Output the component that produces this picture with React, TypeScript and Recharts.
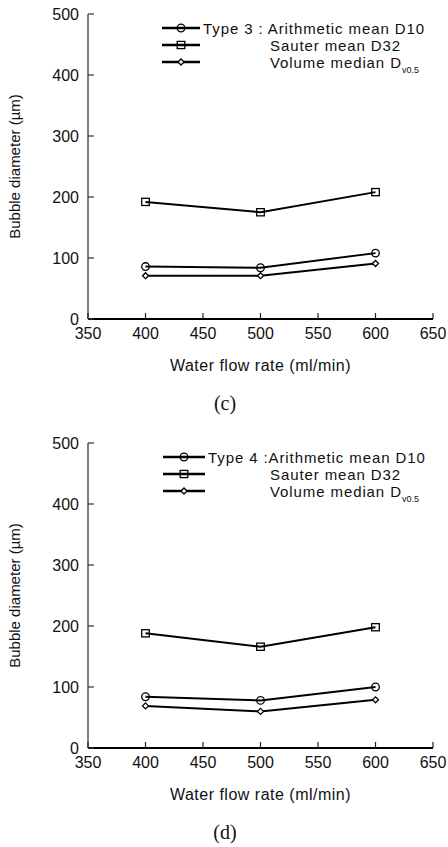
import React from 'react';
import { LineChart, Line, XAxis, YAxis } from 'recharts';

const flowRates = [400, 500, 600];
const xTicks = [350, 400, 450, 500, 550, 600, 650];
const yTicks = [0, 100, 200, 300, 400, 500];

// panel (c) - Type 3
const type3D10 = [86, 84, 108];
const type3D32 = [192, 175, 208];
const type3Dv05 = [71, 71, 91];

// panel (d) - Type 4
const type4D10 = [84, 78, 100];
const type4D32 = [188, 166, 198];
const type4Dv05 = [69, 60, 79];

const seriesNames = ['Arithmetic mean D10', 'Sauter mean D32', 'Volume median D'];
const seriesSubscript = 'v0.5';

const FONT = '"Liberation Sans", Arial, Helvetica, sans-serif';

type Shape = 'circle' | 'square' | 'diamond';

const Marker = ({ cx, cy, shape }: { cx: number; cy: number; shape: Shape }) => {
    if (shape === 'circle') {
        return <circle cx={cx} cy={cy} r={3.8} fill="none" stroke="#000" strokeWidth={1.3} />;
    }
    if (shape === 'square') {
        return <rect x={cx - 3.8} y={cy - 3.6} width={7.6} height={7.2} fill="none" stroke="#000" strokeWidth={1.3} />;
    }
    return (
        <polygon
            points={`${cx - 3},${cy} ${cx},${cy - 3} ${cx + 3},${cy} ${cx},${cy + 3}`}
            fill="#fff"
            stroke="#000"
            strokeWidth={1.3}
        />
    );
};

const makeDot = (shape: Shape) => (props: any) => {
    const { cx, cy, index } = props;
    if (cx == null || cy == null) return <g key={`e-${shape}-${index}`} />;
    return (
        <g key={`${shape}-${index}`}>
            <Marker cx={cx} cy={cy} shape={shape} />
        </g>
    );
};

const BottomTick = (props: any) => {
    const { x, y, payload } = props;
    return (
        <g>
            <line x1={x} y1={y} x2={x} y2={y - 6} stroke="#222" strokeWidth={1.2} />
            <text x={x} y={y + 20} textAnchor="middle" fontSize={16} fontFamily={FONT} fill="#111">
                {payload.value}
            </text>
        </g>
    );
};

const TopTick = (props: any) => {
    const { x, y } = props;
    return <line x1={x} y1={y} x2={x} y2={y + 6} stroke="#333" strokeWidth={1.2} />;
};

const LeftTick = (props: any) => {
    const { x, y, payload } = props;
    return (
        <g>
            <line x1={x} y1={y} x2={x + 6} y2={y} stroke="#333" strokeWidth={1.2} />
            <text x={x - 9} y={y + 5.5} textAnchor="end" fontSize={16} fontFamily={FONT} fill="#111">
                {payload.value}
            </text>
        </g>
    );
};

const RightTick = (props: any) => {
    const { x, y } = props;
    return <line x1={x} y1={y} x2={x - 6} y2={y} stroke="#333" strokeWidth={1.2} />;
};

const shapes: Shape[] = ['circle', 'square', 'diamond'];
const legendRows = [28, 45, 62];

interface PanelProps {
    d10: number[];
    d32: number[];
    dv05: number[];
    prefix: string;
    top: number;
    lineStart: number;
    lineEnd: number;
    firstTextX: number;
}

const Panel: React.FC<PanelProps> = ({ d10, d32, dv05, prefix, top, lineStart, lineEnd, firstTextX }) => {
    const data = flowRates.map((flow, i) => ({ flow, d10: d10[i], d32: d32[i], dv05: dv05[i] }));
    const markerX = (lineStart + lineEnd) / 2;
    return (
        <div style={{ position: 'absolute', left: 0, top, width: 448, height: 380 }}>
            <LineChart width={448} height={380} data={data} margin={{ top: 14, right: 15, bottom: 0, left: 0 }}>
                <XAxis
                    xAxisId="bottom"
                    dataKey="flow"
                    type="number"
                    domain={[350, 650]}
                    ticks={xTicks}
                    tickSize={0}
                    tickMargin={0}
                    tickLine={false}
                    tick={BottomTick}
                    interval={0}
                    height={61}
                    axisLine={{ stroke: '#000', strokeWidth: 2 }}
                    label={{
                        value: 'Water flow rate (ml/min)',
                        position: 'insideBottom',
                        offset: 9,
                        style: { fontSize: 16, letterSpacing: 0.5, fontFamily: FONT, fill: '#111' },
                    }}
                />
                <XAxis
                    xAxisId="top"
                    orientation="top"
                    type="number"
                    domain={[350, 650]}
                    ticks={xTicks}
                    tickSize={0}
                    tickMargin={0}
                    tickLine={false}
                    tick={TopTick}
                    interval={0}
                    height={0}
                    axisLine={{ stroke: '#777', strokeWidth: 1.5 }}
                />
                <YAxis
                    yAxisId="left"
                    type="number"
                    domain={[0, 500]}
                    ticks={yTicks}
                    tickSize={0}
                    tickMargin={0}
                    tickLine={false}
                    tick={LeftTick}
                    interval={0}
                    width={88}
                    axisLine={{ stroke: '#555', strokeWidth: 1.5 }}
                    label={{
                        value: 'Bubble diameter (µm)',
                        angle: -90,
                        position: 'insideLeft',
                        offset: 15,
                        style: { textAnchor: 'middle', fontSize: 15, fontFamily: FONT, fill: '#111' },
                    }}
                />
                <YAxis
                    yAxisId="right"
                    orientation="right"
                    type="number"
                    domain={[0, 500]}
                    ticks={yTicks}
                    tickSize={0}
                    tickMargin={0}
                    tickLine={false}
                    tick={RightTick}
                    interval={0}
                    width={0}
                    axisLine={{ stroke: '#222', strokeWidth: 1.5 }}
                />
                <Line
                    xAxisId="bottom"
                    yAxisId="left"
                    dataKey="d32"
                    stroke="#000"
                    strokeWidth={2}
                    dot={makeDot('square')}
                    activeDot={false}
                    isAnimationActive={false}
                />
                <Line
                    xAxisId="bottom"
                    yAxisId="left"
                    dataKey="d10"
                    stroke="#000"
                    strokeWidth={2}
                    dot={makeDot('circle')}
                    activeDot={false}
                    isAnimationActive={false}
                />
                <Line
                    xAxisId="bottom"
                    yAxisId="left"
                    dataKey="dv05"
                    stroke="#000"
                    strokeWidth={2}
                    dot={makeDot('diamond')}
                    activeDot={false}
                    isAnimationActive={false}
                />
            </LineChart>
            {/* legend, drawn inside the plot's top right corner */}
            <svg
                width={448}
                height={90}
                style={{ position: 'absolute', left: 0, top: 0, pointerEvents: 'none' }}
            >
                {shapes.map((shape, i) => (
                    <g key={shape}>
                        <line x1={lineStart} y1={legendRows[i]} x2={lineEnd} y2={legendRows[i]} stroke="#000" strokeWidth={2.6} />
                        <Marker cx={markerX} cy={legendRows[i]} shape={shape} />
                        <text
                            x={i === 0 ? firstTextX : 270}
                            y={legendRows[i] + 5.5}
                            fontSize={15}
                            letterSpacing={0.9}
                            fontFamily={FONT}
                            fill="#111"
                        >
                            {i === 0 ? prefix + seriesNames[i] : seriesNames[i]}
                            {i === 2 && (
                                <tspan fontSize={9} letterSpacing={0} dy={5}>
                                    {seriesSubscript}
                                </tspan>
                            )}
                        </text>
                    </g>
                ))}
            </svg>
        </div>
    );
};

const Caption = ({ text, centerY }: { text: string; centerY: number }) => (
    <div
        style={{
            position: 'absolute',
            left: 0,
            top: centerY - 13,
            width: 450,
            height: 26,
            lineHeight: '26px',
            textAlign: 'center',
            fontFamily: '"Liberation Serif", "Times New Roman", serif',
            fontSize: 20,
            color: '#111',
        }}
    >
        {text}
    </div>
);

export default function App() {
    return (
        <div style={{ position: 'absolute', left: 0, top: 0, width: 448, height: 847, background: '#fff' }}>
            <Panel
                d10={type3D10}
                d32={type3D32}
                dv05={type3Dv05}
                prefix="Type 3 : "
                top={0}
                lineStart={162}
                lineEnd={200}
                firstTextX={203}
            />
            <Caption text="(c)" centerY={403} />
            <Panel
                d10={type4D10}
                d32={type4D32}
                dv05={type4Dv05}
                prefix="Type 4 :"
                top={429}
                lineStart={163}
                lineEnd={205}
                firstTextX={208}
            />
            <Caption text="(d)" centerY={832} />
        </div>
    );
}
